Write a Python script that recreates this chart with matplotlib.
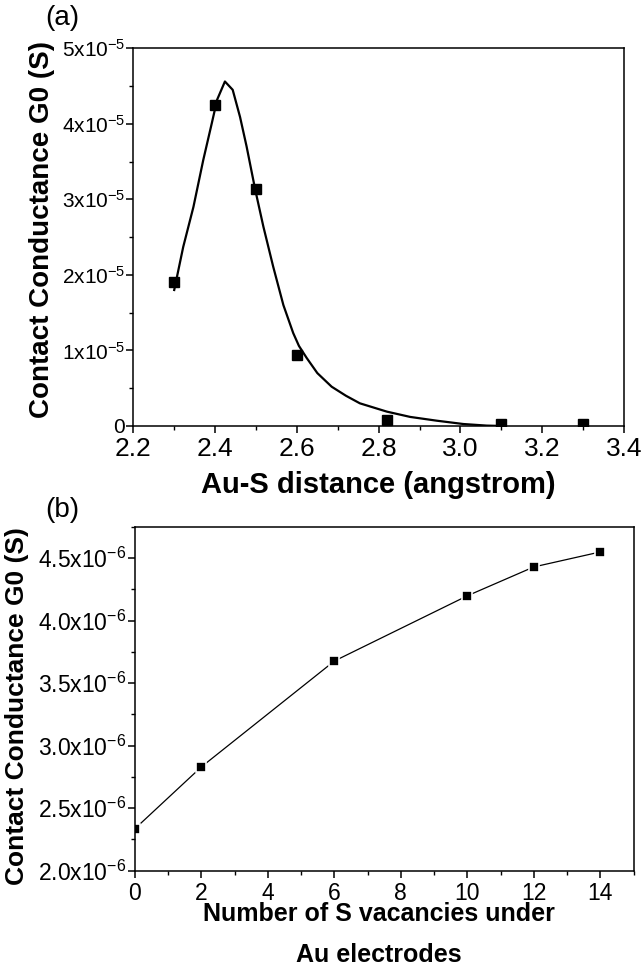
import matplotlib
matplotlib.use("Agg")
import matplotlib.pyplot as plt
from matplotlib.ticker import MultipleLocator

plt.rcParams["font.family"] = ["Liberation Sans", "DejaVu Sans"]
plt.rcParams["mathtext.fontset"] = "custom"
plt.rcParams["mathtext.rm"] = "Liberation Sans"
plt.rcParams["mathtext.it"] = "Liberation Sans"
plt.rcParams["mathtext.bf"] = "Liberation Sans:bold"

# panel (a): Au-S distance vs contact conductance
dist_pts = [2.30, 2.40, 2.50, 2.60, 2.82, 3.10, 3.30]
cond_pts = [1.90e-5, 4.25e-5, 3.14e-5, 0.94e-5, 0.08e-5, 0.03e-5, 0.02e-5]

# fitted curve (units of 1e-5 S)
fit_x = [2.300, 2.322, 2.347, 2.371, 2.392, 2.405, 2.424, 2.443, 2.461, 2.477,
         2.498, 2.518, 2.542, 2.567, 2.591, 2.605, 2.624, 2.650, 2.685, 2.720,
         2.754, 2.820, 2.877, 2.942, 3.007, 3.064, 3.100]
fit_y = [1.80, 2.37, 2.90, 3.52, 4.01, 4.32, 4.56, 4.45, 4.09, 3.70,
         3.13, 2.64, 2.11, 1.60, 1.23, 1.06, 0.90, 0.70, 0.52, 0.40,
         0.30, 0.19, 0.12, 0.07, 0.026, 0.005, 0.0]
fit_y = [v * 1e-5 for v in fit_y]

a_yticks = [0, 1e-5, 2e-5, 3e-5, 4e-5, 5e-5]
a_ylabels = ["0", r"$1\mathrm{x}10^{-5}$", r"$2\mathrm{x}10^{-5}$",
             r"$3\mathrm{x}10^{-5}$", r"$4\mathrm{x}10^{-5}$", r"$5\mathrm{x}10^{-5}$"]
a_xticks = [2.2, 2.4, 2.6, 2.8, 3.0, 3.2, 3.4]

# panel (b): S vacancies vs contact conductance
vacancies = [0, 2, 6, 10, 12, 14]
cond_vac = [2.335e-6, 2.83e-6, 3.677e-6, 4.199e-6, 4.43e-6, 4.55e-6]

b_yticks = [2.0e-6, 2.5e-6, 3.0e-6, 3.5e-6, 4.0e-6, 4.5e-6]
b_ylabels = [r"$2.0\mathrm{x}10^{-6}$", r"$2.5\mathrm{x}10^{-6}$", r"$3.0\mathrm{x}10^{-6}$",
             r"$3.5\mathrm{x}10^{-6}$", r"$4.0\mathrm{x}10^{-6}$", r"$4.5\mathrm{x}10^{-6}$"]
b_xticks = [0, 2, 4, 6, 8, 10, 12, 14]

ylabel = "Contact Conductance G0 (S)"


def style_axes(ax, xsize, ysize):
    for sp in ax.spines.values():
        sp.set_linewidth(1.1)
    ax.tick_params(which="major", direction="out", length=5, width=1.1)
    ax.tick_params(which="minor", direction="out", length=3, width=1.0)
    ax.tick_params(axis="x", labelsize=xsize, pad=3)
    ax.tick_params(axis="y", labelsize=ysize, pad=1)


fig = plt.figure(figsize=(6.41, 9.71), dpi=100)

ax1 = fig.add_axes([0.208, 0.5613, 0.7655, 0.389])
ax1.plot(fit_x, fit_y, color="black", lw=1.6)
ax1.plot(dist_pts, cond_pts, ls="none", marker="s", ms=7, color="black")
ax1.set_xlim(2.2, 3.4)
ax1.set_ylim(0, 5e-5)
ax1.set_xticks(a_xticks)
ax1.set_xticklabels([f"{v:.1f}" for v in a_xticks])
ax1.set_yticks(a_yticks)
ax1.set_yticklabels(a_ylabels)
ax1.xaxis.set_minor_locator(MultipleLocator(0.1))
ax1.yaxis.set_minor_locator(MultipleLocator(0.5e-5))
style_axes(ax1, 19, 15)
ax1.set_xlabel("Au-S distance (angstrom)", fontsize=21, fontweight="bold")
ax1.xaxis.set_label_coords(0.5, -0.118)
ax1.set_ylabel(ylabel, fontsize=20, fontweight="bold")
ax1.yaxis.set_label_coords(-0.16, 0.519)
fig.text(0.07, 0.981, "(a)", fontsize=20, va="center", ha="left")

ax2 = fig.add_axes([0.2106, 0.1035, 0.7777, 0.3538])
ax2.plot(vacancies, cond_vac, color="black", lw=0.9, marker="s", ms=6.5,
         mfc="black", mec="white", mew=1.2)
ax2.set_xlim(0, 15)
ax2.set_ylim(2.0e-6, 4.75e-6)
ax2.set_xticks(b_xticks)
ax2.set_xticklabels([str(v) for v in b_xticks])
ax2.set_yticks(b_yticks)
ax2.set_yticklabels(b_ylabels)
ax2.xaxis.set_minor_locator(MultipleLocator(1))
ax2.yaxis.set_minor_locator(MultipleLocator(0.25e-6))
style_axes(ax2, 16.5, 16.5)
ax2.set_xlabel("Number of S vacancies under\nAu electrodes", fontsize=18,
               fontweight="bold", linespacing=1.85)
ax2.xaxis.set_label_coords(0.49, -0.093)
ax2.set_ylabel(ylabel, fontsize=19, fontweight="bold")
ax2.yaxis.set_label_coords(-0.213, 0.479)
fig.text(0.07, 0.475, "(b)", fontsize=20, va="center", ha="left")

fig.savefig("out.png", dpi=100)
